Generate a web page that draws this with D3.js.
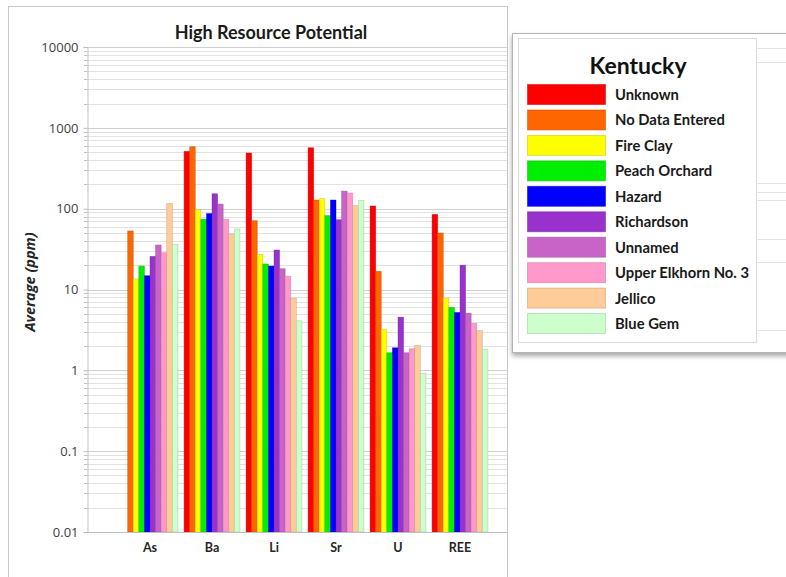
<!DOCTYPE html>
<html>
<head>
<meta charset="utf-8">
<script src="https://cdn.jsdelivr.net/npm/d3@7"></script>
<style>
  html, body { margin: 0; padding: 0; background: #fff; }
  svg { display: block; font-family: Lato, "Open Sans", sans-serif; }
</style>
</head>
<body>
<svg id="chart" width="786" height="577"></svg>
<script>
// Element groups along the x axis
const categories = ["As", "Ba", "Li", "Sr", "U", "REE"];

// Coal beds (series) and their fill colours
const seriesNames = ["Unknown", "No Data Entered", "Fire Clay", "Peach Orchard", "Hazard",
  "Richardson", "Unnamed", "Upper Elkhorn No. 3", "Jellico", "Blue Gem"];
const seriesColors = ["#ff0000", "#ff6600", "#ffff00", "#00ee00", "#0000ff",
  "#9932cc", "#c864c8", "#ff99cc", "#ffcc99", "#ccffcc"];

// Average concentration (ppm) per series, in category order As, Ba, Li, Sr, U, REE
const unknown       = [null, 512, 488, 567, 108, 85];
const noDataEntered = [53, 584, 71, 128, 16.8, 50];
const fireClay      = [13.5, 97, 27, 133, 3.2, 7.8];
const peachOrchard  = [19.5, 74, 20.7, 82, 1.65, 6.0];
const hazard        = [14.8, 87, 19.5, 128, 1.9, 5.2];
const richardson    = [25.7, 153, 30.8, 73, 4.55, 20];
const unnamed       = [35.5, 114, 18.1, 165, 1.65, 5.1];
const upperElkhorn3 = [28.5, 74, 14.6, 156, 1.85, 3.8];
const jellico       = [116, 48.6, 7.8, 109, 2.04, 3.1];
const blueGem       = [36, 56, 4.1, 127, 0.91, 1.83];

const seriesValues = [unknown, noDataEntered, fireClay, peachOrchard, hazard,
  richardson, unnamed, upperElkhorn3, jellico, blueGem];

const yTickValues = [0.01, 0.1, 1, 10, 100, 1000, 10000];
const yTickLabels = ["0.01", "0.1", "1", "10", "100", "1000", "10000"];

const svg = d3.select("#chart");

// Chart frame
svg.append("rect")
  .attr("x", 8.5).attr("y", 6.5).attr("width", 499).attr("height", 600)
  .attr("fill", "#fff").attr("stroke", "#c8c8c8");

const plotLeft = 87, plotRight = 507, plotTop = 47, plotBottom = 532;

const y = d3.scaleLog().domain([0.01, 10000]).range([plotBottom, plotTop]);
const x = d3.scaleBand().domain(categories).range([119, 491])
  .paddingInner(0.1).paddingOuter(0.05);
const xs = d3.scaleBand().domain(seriesNames).range([0, x.bandwidth()]);
const color = d3.scaleOrdinal().domain(seriesNames).range(seriesColors);

// Gridlines: minor lines at 2..9 within each decade, major lines at decades
const minor = [];
for (let e = -2; e < 4; e++) for (let m = 2; m <= 9; m++) minor.push(m * Math.pow(10, e));

const grid = svg.append("g");
grid.selectAll("line.minor").data(minor).join("line")
  .attr("class", "minor")
  .attr("x1", plotLeft).attr("x2", plotRight)
  .attr("y1", d => Math.round(y(d)) + 0.5).attr("y2", d => Math.round(y(d)) + 0.5)
  .attr("stroke", "#e2e2e2").attr("stroke-width", 1);
grid.selectAll("line.major").data(yTickValues).join("line")
  .attr("class", "major")
  .attr("x1", plotLeft).attr("x2", plotRight)
  .attr("y1", d => Math.round(y(d)) + 0.5).attr("y2", d => Math.round(y(d)) + 0.5)
  .attr("stroke", "#d0d0d0").attr("stroke-width", 1);

// Small minor tick marks to the left of the y axis
grid.selectAll("line.mtick").data(minor).join("line")
  .attr("x1", plotLeft - 3).attr("x2", plotLeft)
  .attr("y1", d => Math.round(y(d)) + 0.5).attr("y2", d => Math.round(y(d)) + 0.5)
  .attr("stroke", "#c0c0c0");

// Bars
const groups = svg.append("g").selectAll("g").data(categories).join("g")
  .attr("transform", c => `translate(${x(c)},0)`);

groups.selectAll("rect")
  .data((c, ci) => seriesNames.map((s, si) => ({ s, v: seriesValues[si][ci] })).filter(d => d.v != null))
  .join("rect")
  .attr("x", d => xs(d.s))
  .attr("width", xs.bandwidth())
  .attr("y", d => y(d.v))
  .attr("height", d => plotBottom - y(d.v))
  .attr("fill", d => color(d.s))
  .attr("stroke", d => d3.color(color(d.s)).darker(0.9))
  .attr("stroke-opacity", 0.55)
  .attr("stroke-width", 0.7);

// Y axis
const yAxis = d3.axisLeft(y).tickValues(yTickValues)
  .tickFormat((d, i) => yTickLabels[i]).tickSize(4).tickPadding(5);
const yg = svg.append("g").attr("transform", `translate(${plotLeft + 0.5},0)`).call(yAxis);
yg.select(".domain").attr("stroke", "#bfbfbf");
yg.selectAll(".tick line").attr("stroke", "#bfbfbf");
yg.selectAll(".tick text").attr("font-size", 13).attr("fill", "#404040")
  .attr("font-family", "'Open Sans', sans-serif");

// X axis
const xAxis = d3.axisBottom(x).tickSize(0).tickPadding(11);
const xg = svg.append("g").attr("transform", `translate(0,${plotBottom + 0.5})`).call(xAxis);
xg.select(".domain").attr("d", `M${plotLeft},0H${plotRight}`).attr("stroke", "#bfbfbf");
xg.selectAll(".tick text").attr("font-size", 12.5).attr("font-weight", "bold")
  .attr("fill", "#262626").attr("font-family", "Lato, sans-serif");

// Titles
svg.append("text")
  .attr("x", 271).attr("y", 39).attr("text-anchor", "middle")
  .attr("font-size", 18).attr("font-weight", "bold").attr("fill", "#1a1a1a")
  .text("High Resource Potential");

svg.append("text")
  .attr("transform", "translate(35,282) rotate(-90)")
  .attr("text-anchor", "middle")
  .attr("font-family", "'Open Sans', sans-serif")
  .attr("font-size", 14.5).attr("font-weight", "bold").attr("font-style", "italic")
  .attr("fill", "#262626")
  .text("Average (ppm)");

// Legend panel with drop shadow
const defs = svg.append("defs");
const f = defs.append("filter").attr("id", "shadow")
  .attr("x", "-10%").attr("y", "-10%").attr("width", "130%").attr("height", "130%");
f.append("feDropShadow").attr("dx", 0).attr("dy", 3).attr("stdDeviation", 2.5)
  .attr("flood-color", "#000").attr("flood-opacity", 0.35);

const legend = svg.append("g");
legend.append("rect")
  .attr("x", 512.5).attr("y", 33.5).attr("width", 300).attr("height", 319)
  .attr("fill", "#fff").attr("stroke", "#b4b4b4").attr("filter", "url(#shadow)");

// faint background rules inside the panel
const faint = [48, 62, 183, 192, 200, 239, 262, 330];
legend.selectAll("line.faint").data(faint).join("line")
  .attr("x1", 757).attr("x2", 786)
  .attr("y1", d => d + 0.5).attr("y2", d => d + 0.5)
  .attr("stroke", "#e4e4e4");

legend.append("rect")
  .attr("x", 518.5).attr("y", 38.5).attr("width", 238).attr("height", 304)
  .attr("fill", "#fff").attr("stroke", "#dadada");

legend.append("text")
  .attr("x", 638).attr("y", 74).attr("text-anchor", "middle")
  .attr("font-size", 23).attr("font-weight", "bold").attr("fill", "#111")
  .text("Kentucky");

const items = legend.selectAll("g.item").data(seriesNames).join("g")
  .attr("class", "item")
  .attr("transform", (d, i) => `translate(0,${84 + i * 25.45})`);
items.append("rect")
  .attr("x", 527.5).attr("y", 0.5).attr("width", 78).attr("height", 20)
  .attr("fill", d => color(d))
  .attr("stroke", d => d3.color(color(d)).darker(0.8)).attr("stroke-opacity", 0.5);
items.append("text")
  .attr("x", 615).attr("y", 16)
  .attr("font-size", 14.8).attr("font-weight", "bold").attr("fill", "#1a1a1a")
  .text(d => d);
</script>
</body>
</html>
